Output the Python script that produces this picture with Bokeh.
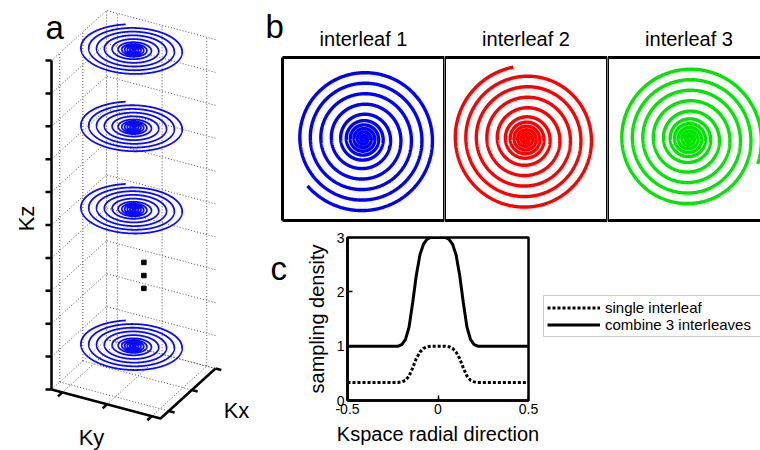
import numpy as np
from bokeh.plotting import figure
from bokeh.models import Range1d, Label, Legend, LegendItem, FixedTicker
from bokeh.layouts import row, column
from bokeh.embed import file_html
from bokeh.resources import INLINE

FONT = "Liberation Sans"

# ---------------- data ----------------
# panel c: sampling density along the k-space radial direction
k_radial = [-0.5, -0.22, -0.20, -0.18, -0.16, -0.14, -0.12, -0.10, -0.08, -0.06, -0.04,
            0.0, 0.04, 0.06, 0.08, 0.10, 0.12, 0.14, 0.16, 0.18, 0.20, 0.22, 0.5]
combined_density = [1.0, 1.0, 1.03, 1.12, 1.35, 1.8, 2.3, 2.68, 2.88, 2.97, 3.0,
                    3.0, 3.0, 2.97, 2.88, 2.68, 2.3, 1.8, 1.35, 1.12, 1.03, 1.0, 1.0]
single_density = [0.333, 0.333, 0.343, 0.37, 0.45, 0.6, 0.77, 0.89, 0.96, 0.99, 1.0,
                  1.0, 1.0, 0.99, 0.96, 0.89, 0.77, 0.6, 0.45, 0.37, 0.343, 0.333, 0.333]
c_xticks = [-0.5, 0, 0.5]
c_yticks = [0, 1, 2, 3]
legend_labels = ["single interleaf", "combine 3 interleaves"]

# panel b: three interleaves of the variable-density spiral
interleaf_labels = ["interleaf 1", "interleaf 2", "interleaf 3"]
interleaf_colors = ["#0000ff", "#ff0000", "#00e600"]
interleaf_end_angle_deg = [220, 100, -20]
spiral_kmax = 0.5
outer_turn_spacing = 0.072

# panel a: stack of spirals along kz
kz_levels = [10.0, 7.65, 5.15, 1.0]
kz_ticks = list(range(0, 11))
kx_ticks = [0.15, 0.57, 1.0]      # fractions of the kx extent
ky_ticks = [0.10, 0.51, 0.92]     # fractions of the ky extent
ellipsis_kz = [3.53, 3.13, 2.74]
stack_end_angle_deg = 125
stack_radius_fraction = 0.89

# ---------------- helpers ----------------
half = len(k_radial) // 2
k_abs = np.array(k_radial[half:])
dens_abs = np.array(single_density[half:])


def spiral_xy(end_deg, kmax=spiral_kmax, spacing=outer_turn_spacing, step=0.01):
    k, th = 0.0, 0.0
    ks, ths = [0.0], [0.0]
    outer = dens_abs[-1]
    while k < kmax:
        d = np.interp(k, k_abs, dens_abs)
        k += spacing * (outer / d) / (2 * np.pi) * step
        th += step
        ks.append(min(k, kmax))
        ths.append(th)
    ks = np.array(ks)
    ths = np.array(ths)
    phi = np.deg2rad(end_deg) + (ths[-1] - ths)
    return ks * np.cos(phi), ks * np.sin(phi)


# 3-D projection for panel a (page pixels)
O = np.array([51.0, 389.0])
U = np.array([109.0, 29.0])    # ky direction
V = np.array([55.0, -50.0])    # kx direction
ZS = 32.9                      # pixels per kz unit


def proj(u, v, z):
    u = np.asarray(u, dtype=float)
    v = np.asarray(v, dtype=float)
    z = np.asarray(z, dtype=float)
    return O[0] + u * U[0] + v * V[0], O[1] + u * U[1] + v * V[1] - z * ZS


def blank(width, height, xr, yr):
    p = figure(width=width, height=height, x_range=xr, y_range=yr,
               output_backend="svg", toolbar_location=None,
               x_axis_location=None, y_axis_location=None, min_border=0)
    p.xgrid.visible = False
    p.ygrid.visible = False
    p.outline_line_color = None
    p.background_fill_color = "white"
    p.border_fill_color = "white"
    return p


def label(p, x, y, text, size, align="left", baseline="alphabetic", angle=0):
    p.add_layout(Label(x=x, y=y, text=text, angle=angle, text_align=align,
                       text_baseline=baseline, text_font=FONT, text_font_size=size,
                       text_color="black"))


# ---------------- panel a ----------------
pa = blank(262, 450, Range1d(0, 262), Range1d(450, 0))

gx, gy = [], []
zmax = kz_ticks[-1]
for z in kz_ticks:
    x, y = proj([0, 0, 1], [0, 1, 1], [z, z, z])
    gx.append(list(x)); gy.append(list(y))
for v in kx_ticks:
    x, y = proj([0, 0], [v, v], [0, zmax]); gx.append(list(x)); gy.append(list(y))
    x, y = proj([0, 1], [v, v], [0, 0]); gx.append(list(x)); gy.append(list(y))
for u in ky_ticks:
    x, y = proj([u, u], [1, 1], [0, zmax]); gx.append(list(x)); gy.append(list(y))
    x, y = proj([u, u], [0, 1], [0, 0]); gx.append(list(x)); gy.append(list(y))
pa.multi_line(gx, gy, line_color="#555555", line_width=1, line_dash="1 2")

x, y = proj([0, 0], [0, 0], [0, zmax])
pa.line(x, y, line_color="black", line_width=2.5)
x, y = proj([0, 1, 1], [0, 0, 1], [0, 0, 0])
pa.line(x, y, line_color="black", line_width=2.5)
tx, ty = [], []
for z in kz_ticks:
    x, y = proj(0, 0, z)
    tx.append([float(x), float(x) - 6]); ty.append([float(y), float(y)])
vn = -V / np.hypot(*V) * 6
for u in ky_ticks:
    x, y = proj(u, 0, 0)
    tx.append([float(x), float(x) + vn[0]]); ty.append([float(y), float(y) + vn[1]])
un = U / np.hypot(*U) * 6
for v in kx_ticks:
    x, y = proj(1, v, 0)
    tx.append([float(x), float(x) + un[0]]); ty.append([float(y), float(y) + un[1]])
pa.multi_line(tx, ty, line_color="black", line_width=2.5)

sx, sy = spiral_xy(stack_end_angle_deg)
for z in kz_levels:
    u = 0.5 + stack_radius_fraction * sx
    v = 0.5 + stack_radius_fraction * sy
    x, y = proj(u, v, np.full_like(u, z))
    pa.line(x, y, line_color="#0a0aff", line_width=1.8)

dx, dy = proj(np.full(3, 0.57), np.full(3, 0.55), ellipsis_kz)
pa.scatter(dx, dy, marker="square", size=4.5, color="black")

label(pa, 26, 218, "Kz", "22px", "center", "middle", np.pi / 2)
label(pa, 91, 437, "Ky", "22px", "center", "middle")
label(pa, 236, 410, "Kx", "22px", "center", "middle")
label(pa, 45, 27, "a", "33px")

# ---------------- panel b ----------------
PX = 146.0                       # pixels per k unit
box_left = [282, 444, 607]
box_right = [444, 607, 770]
canvas_left = [262, 444, 607]
canvas_right = [444, 607, 760]
box_top, box_bottom, canvas_h = 57, 220, 230
cy = (box_top + box_bottom) / 2
b_figs = []
for i in range(3):
    cx = (box_left[i] + box_right[i]) / 2
    xr = Range1d((canvas_left[i] - cx) / PX, (canvas_right[i] - cx) / PX)
    yr = Range1d(-(canvas_h - cy) / PX, cy / PX)
    p = blank(canvas_right[i] - canvas_left[i], canvas_h, xr, yr)
    xl, xrr = (box_left[i] - cx) / PX, (box_right[i] - cx) / PX
    yt, yb = (cy - box_top) / PX, (cy - box_bottom) / PX
    bx = [[xl, xrr], [xl, xrr], [xl, xl]]
    by = [[yt, yt], [yb, yb], [yb, yt]]
    if i < 2:
        bx.append([xrr, xrr]); by.append([yb, yt])
    x, y = spiral_xy(interleaf_end_angle_deg[i])
    p.line(x, y, line_color=interleaf_colors[i], line_width=3.4)
    p.multi_line(bx, by, line_color="black", line_width=3)
    label(p, 0, (cy - 38) / PX, interleaf_labels[i], "20px", "center")
    b_figs.append(p)
label(b_figs[0], (265 - (box_left[0] + box_right[0]) / 2) / PX, (cy - 26) / PX, "b", "33px")

# ---------------- panel c ----------------
pcl = blank(38, 220, Range1d(262, 300), Range1d(450, 230))
label(pcl, 270, 272, "c", "33px")

pc = figure(width=240, height=220, x_range=Range1d(-0.5, 0.5), y_range=Range1d(0, 3),
            output_backend="svg", toolbar_location=None,
            min_border_left=47, min_border_right=12, min_border_top=7, min_border_bottom=50)
pc.xgrid.visible = False
pc.ygrid.visible = False
pc.background_fill_color = "white"
pc.border_fill_color = "white"
pc.outline_line_color = "black"
pc.outline_line_width = 2.5
pc.line(k_radial, single_density, line_color="black", line_width=3, line_dash="3 2")
pc.line(k_radial, combined_density, line_color="black", line_width=3)
pc.xaxis.ticker = FixedTicker(ticks=c_xticks)
pc.yaxis.ticker = FixedTicker(ticks=c_yticks)
pc.xaxis.major_label_overrides = {-0.5: "-0.5", 0: "0", 0.5: "0.5"}
for ax in (pc.xaxis[0], pc.yaxis[0]):
    ax.major_tick_in = 5
    ax.major_tick_out = 0
    ax.minor_tick_line_color = None
    ax.axis_line_width = 2.5
    ax.major_tick_line_width = 1.5
    ax.major_label_text_font = FONT
    ax.major_label_text_font_size = "14px"
    ax.major_label_text_color = "black"
    ax.major_label_standoff = 3
    ax.axis_label_text_font = FONT
    ax.axis_label_text_font_size = "20px"
    ax.axis_label_text_font_style = "normal"
    ax.axis_label_text_color = "black"
    ax.axis_label_standoff = 6
pc.xaxis.axis_label = "Kspace radial direction"
pc.yaxis.axis_label = "sampling density"
pc.yaxis.major_label_orientation = "horizontal"

# legend panel (legend lines reuse the panel-c series, kept out of view)
pl = blank(220, 220, Range1d(10, 11), Range1d(10, 11))
r1 = pl.line(k_radial, single_density, line_color="black", line_width=3, line_dash="3 2")
r2 = pl.line(k_radial, combined_density, line_color="black", line_width=3)
leg = Legend(items=[LegendItem(label=legend_labels[0], renderers=[r1]),
                    LegendItem(label=legend_labels[1], renderers=[r2])],
             location=(3, 63), orientation="vertical")
leg.label_text_font = FONT
leg.label_text_font_size = "15px"
leg.label_text_color = "black"
leg.glyph_width = 53
leg.glyph_height = 15
leg.label_height = 15
leg.label_width = 152
leg.spacing = 0
leg.padding = 3
leg.margin = 0
leg.label_standoff = 5
leg.border_line_color = "#999999"
leg.border_line_width = 1
leg.background_fill_alpha = 1
pl.add_layout(leg)

layout = row(pa, column(row(*b_figs), row(pcl, pc, pl)))
open("out.html", "w").write(file_html(layout, INLINE))
